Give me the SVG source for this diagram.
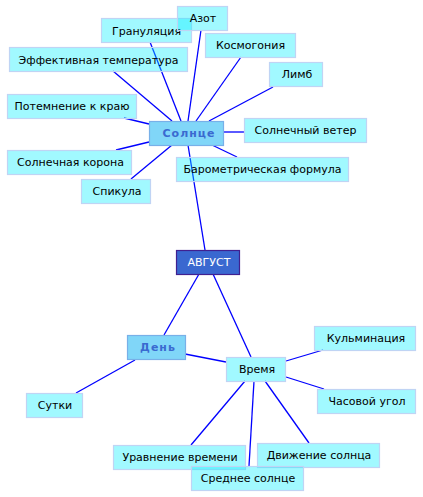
<svg xmlns="http://www.w3.org/2000/svg" width="423" height="497" viewBox="0 0 423 497">
<style>
.n rect{fill:#00eeff;fill-opacity:0.37;stroke:#c0d4f4;stroke-width:1.2}
.n text{font-family:"DejaVu Sans",sans-serif;font-size:11px;fill:#000;text-anchor:middle}
.s rect{fill:#80d6f8;stroke:#78b0e8;stroke-width:1.2}
.s text{font-family:"DejaVu Sans",sans-serif;font-size:11px;font-weight:bold;fill:#3a6ad0;text-anchor:middle;letter-spacing:1px}
.r rect{fill:#3a68d0;stroke:#402090;stroke-width:1.2}
.r text{font-family:"DejaVu Sans",sans-serif;font-size:11px;fill:#fff;text-anchor:middle}
#edges line{stroke:#0000ff;stroke-width:1.3}
</style>
<rect width="423" height="497" fill="#fff"/>
<g id="edges">
<line x1="150" y1="42" x2="181" y2="121"/>
<line x1="201" y1="30" x2="188" y2="121"/>
<line x1="113" y1="71" x2="172" y2="121"/>
<line x1="124" y1="118" x2="149" y2="124"/>
<line x1="241" y1="57" x2="196" y2="121"/>
<line x1="273" y1="87" x2="209" y2="121"/>
<line x1="244" y1="132" x2="224" y2="132"/>
<line x1="237" y1="157" x2="212" y2="145"/>
<line x1="116" y1="150" x2="149" y2="142"/>
<line x1="131" y1="179" x2="172" y2="145"/>
<line x1="188" y1="145" x2="205" y2="250"/>
<line x1="199" y1="274" x2="164" y2="335"/>
<line x1="213" y1="274" x2="251" y2="357"/>
<line x1="185" y1="354" x2="226" y2="362"/>
<line x1="135" y1="360" x2="76" y2="393"/>
<line x1="286" y1="361" x2="323" y2="350"/>
<line x1="286" y1="377" x2="324" y2="389"/>
<line x1="265" y1="381" x2="309" y2="443"/>
<line x1="254" y1="381" x2="249" y2="466"/>
<line x1="245" y1="381" x2="191" y2="445"/>
</g>
<g id="n-granulyatsiya" class="n"><rect x="101.5" y="18.5" width="90" height="24"/><text x="146.5" y="34.5">Грануляция</text></g>
<g id="n-azot" class="n"><rect x="177.5" y="6.5" width="50" height="24"/><text x="203" y="22">Азот</text></g>
<g id="n-eff" class="n"><rect x="9.5" y="47.5" width="178" height="24"/><text x="98.5" y="63.5">Эффективная температура</text></g>
<g id="n-kosmo" class="n"><rect x="205.5" y="33.5" width="90" height="24"/><text x="250.5" y="49">Космогония</text></g>
<g id="n-limb" class="n"><rect x="269.5" y="62.5" width="53" height="24"/><text x="297" y="78">Лимб</text></g>
<g id="n-potemn" class="n"><rect x="7.5" y="94.5" width="129" height="24"/><text x="72" y="110">Потемнение к краю</text></g>
<g id="n-veter" class="n"><rect x="244.5" y="118.5" width="122" height="24"/><text x="305.5" y="134">Солнечный ветер</text></g>
<g id="n-korona" class="n"><rect x="7.5" y="150.5" width="124" height="24"/><text x="70.5" y="166">Солнечная корона</text></g>
<g id="n-baro" class="n"><rect x="176.5" y="157.5" width="172" height="24"/><text x="262.5" y="173">Барометрическая формула</text></g>
<g id="n-spikula" class="n"><rect x="81.5" y="179.5" width="69" height="24"/><text x="117" y="195">Спикула</text></g>
<g id="n-solntse" class="s"><rect x="149.5" y="121.5" width="74" height="24"/><text x="189" y="137">Солнце</text></g>
<g id="n-avgust" class="r"><rect x="176.5" y="250.5" width="63" height="24"/><text x="209" y="266">АВГУСТ</text></g>
<g id="n-den" class="s"><rect x="127.5" y="335.5" width="58" height="24"/><text x="158" y="351">День</text></g>
<g id="n-kulm" class="n"><rect x="314.5" y="326.5" width="101" height="24"/><text x="366" y="342">Кульминация</text></g>
<g id="n-vremya" class="n"><rect x="226.5" y="357.5" width="59" height="24"/><text x="257" y="373">Время</text></g>
<g id="n-sutki" class="n"><rect x="26.5" y="393.5" width="56" height="24"/><text x="55" y="409">Сутки</text></g>
<g id="n-chas" class="n"><rect x="317.5" y="389.5" width="98" height="24"/><text x="367" y="405">Часовой угол</text></g>
<g id="n-dvizh" class="n"><rect x="257.5" y="443.5" width="122" height="24"/><text x="319" y="459">Движение солнца</text></g>
<g id="n-uravn" class="n"><rect x="113.5" y="445.5" width="132" height="24"/><text x="180" y="461">Уравнение времени</text></g>
<g id="n-sredn" class="n"><rect x="191.5" y="466.5" width="112" height="24"/><text x="248" y="482">Среднее солнце</text></g>
</svg>
